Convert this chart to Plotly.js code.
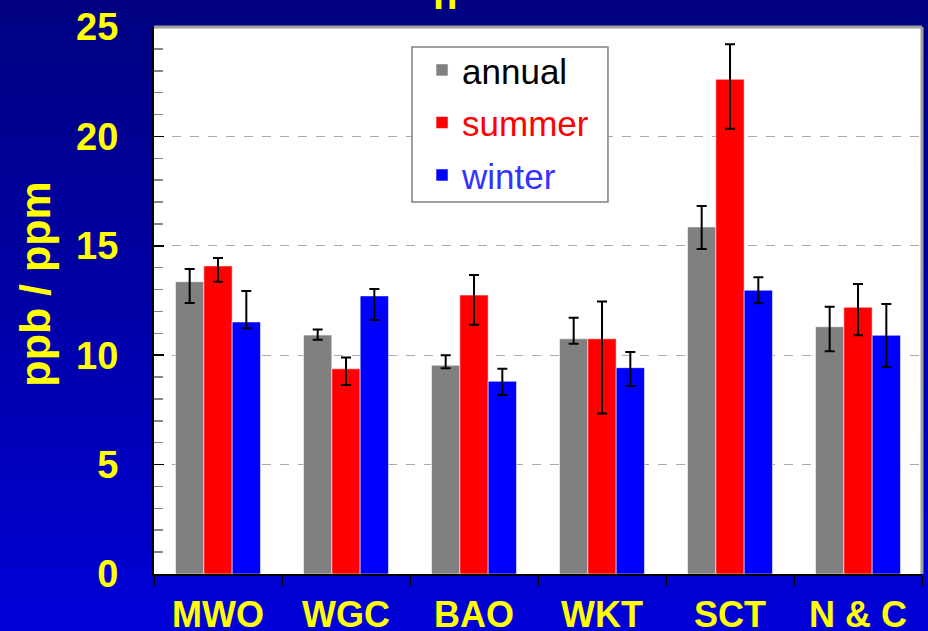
<!DOCTYPE html>
<html>
<head>
<meta charset="utf-8">
<script src="https://cdn.plot.ly/plotly-3.0.1.min.js"></script>
<style>
  html, body { margin: 0; padding: 0; }
  #chart { width: 928px; height: 631px; background: linear-gradient(to bottom, #000080 0%, #0000a8 50%, #0000d8 100%); }
</style>
</head>
<body>
<div id="chart"></div>
<script>
// ---- data ----
const categories = ["MWO", "WGC", "BAO", "WKT", "SCT", "N & C"];
const seriesNames = ["annual", "summer", "winter"];

const annual       = [13.36, 10.92, 9.54, 10.75, 15.86, 11.30];
const annualPlus   = [0.58, 0.25, 0.46, 0.96, 0.96, 0.92];
const annualMinus  = [0.97, 0.21, 0.14, 0.23, 1.01, 1.12];

const summer       = [14.08, 9.38, 12.75, 10.75, 22.61, 12.19];
const summerPlus   = [0.36, 0.51, 0.92, 1.70, 1.60, 1.06];
const summerMinus  = [0.72, 0.74, 1.36, 3.42, 2.26, 1.28];

const winter       = [11.52, 12.71, 8.81, 9.43, 12.97, 10.91];
const winterPlus   = [1.41, 0.32, 0.57, 0.72, 0.59, 1.43];
const winterMinus  = [0.29, 1.10, 0.63, 0.84, 0.60, 1.45];

const yTickVals = [0, 5, 10, 15, 20, 25];
const yTickText = ["0", "5", "10", "15", "20", "25"];
const yTitle = "ppb / ppm";

// ---- styles ----
const FONT = "Liberation Sans, Arial, sans-serif";
const YELLOW = "#ffff00";

function barTrace(name, vals, plus, minus, color, textColor, group) {
  return {
    type: "bar",
    name: '<span style="color:' + textColor + '">' + name + '</span>',
    x: categories,
    y: vals,
    legendgroup: group,
    marker: { color: color, line: { color: "rgba(255,255,255,0.55)", width: 1 } },
    error_y: {
      type: "data", symmetric: false,
      array: plus, arrayminus: minus,
      color: "#000000", thickness: 2, width: 5
    },
    hoverinfo: "x+y"
  };
}

const data = [
  barTrace(seriesNames[0], annual, annualPlus, annualMinus, "#808080", "#000000", "g1"),
  barTrace(seriesNames[1], summer, summerPlus, summerMinus, "#ff0000", "#ff0000", "g2"),
  barTrace(seriesNames[2], winter, winterPlus, winterMinus, "#0000ff", "#3333ff", "g3")
];

const layout = {
  width: 928,
  height: 631,
  margin: { l: 154, r: 6, t: 27, b: 57, pad: 0 },
  paper_bgcolor: "rgba(0,0,0,0)",
  plot_bgcolor: "#ffffff",
  barmode: "group",
  bargap: 0.336,
  bargroupgap: 0,
  font: { family: FONT },
  showlegend: true,
  legend: {
    x: 0.349, y: 0.975, xanchor: "left", yanchor: "top",
    bgcolor: "rgba(0,0,0,0)", borderwidth: 0,
    font: { family: FONT, size: 35, color: "#000000" },
    traceorder: "grouped",
    tracegroupgap: 4,
    itemwidth: 30
  },
  xaxis: {
    type: "category",
    showline: true, linecolor: "#000000", linewidth: 2,
    ticks: "outside", tickson: "boundaries", ticklen: 10, tickwidth: 1, tickcolor: "#000000",
    tickfont: { family: FONT, size: 36, color: YELLOW, weight: "bold" },
    ticklabelstandoff: 8,
    showgrid: false, zeroline: false, fixedrange: true
  },
  yaxis: {
    range: [0, 25], autorange: false,
    tickvals: yTickVals, ticktext: yTickText,
    showline: true, linecolor: "#000000", linewidth: 2,
    ticks: "inside", ticklen: 10, tickwidth: 1.5, tickcolor: "#000000",
    tickfont: { family: FONT, size: 38, color: YELLOW, weight: "bold" },
    ticklabelstandoff: 26,
    showgrid: true, gridcolor: "#aaaaaa", griddash: "dash", gridwidth: 1,
    zeroline: false,
    minor: { dtick: 1, ticks: "inside", ticklen: 9, tickcolor: "#888888", tickwidth: 1.5, showgrid: false },
    fixedrange: true
  },
  shapes: [
    // legend frame
    { type: "rect", xref: "paper", yref: "paper", x0: 0.3359, x1: 0.5911, y0: 0.680, y1: 0.9634,
      fillcolor: "#ffffff", line: { color: "#808080", width: 1.5 }, layer: "above" },
    // top and right plot border
    { type: "line", xref: "paper", yref: "paper", x0: 0, x1: 1, y0: 1, y1: 1,
      line: { color: "#a0a0a0", width: 3 }, layer: "above" },
    { type: "line", xref: "paper", yref: "paper", x0: 1, x1: 1, y0: 0, y1: 1,
      line: { color: "#a0a0a0", width: 3 }, layer: "above" }
  ],
  annotations: [
    { text: "n", xref: "paper", yref: "paper", x: 0.379, y: 1, xanchor: "center", yanchor: "middle",
      yshift: 32, showarrow: false,
      font: { family: FONT, size: 40, color: YELLOW, weight: "bold" } },
    // y-axis title
    { text: yTitle, xref: "paper", yref: "paper", x: 0, y: 0.529, xanchor: "center", yanchor: "middle",
      xshift: -119, textangle: -90, showarrow: false,
      font: { family: FONT, size: 43, color: YELLOW, weight: "bold" } }
  ]
};

Plotly.newPlot("chart", data, layout, { displayModeBar: false, staticPlot: true });
</script>
</body>
</html>
